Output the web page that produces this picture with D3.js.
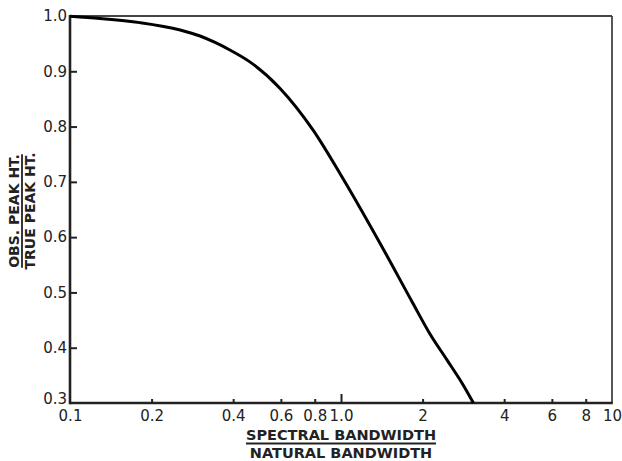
<!DOCTYPE html>
<html>
<head>
<meta charset="utf-8">
<script src="https://cdn.jsdelivr.net/npm/d3@7"></script>
<style>
  body { margin: 0; background: #fff; }
  text { font-family: "DejaVu Sans", Verdana, sans-serif; fill: #222; }
</style>
</head>
<body>
<svg id="chart" width="622" height="461"></svg>
<script>
// spectral bandwidth / natural bandwidth
const ratio = [0.1, 0.129, 0.181, 0.255, 0.302, 0.343, 0.389, 0.461, 0.596, 0.788, 1.0, 1.393, 1.844, 2.13, 2.46, 2.82, 3.08];
// observed / true peak height
const heightRatio = [0.9995, 0.9955, 0.988, 0.9747, 0.9638, 0.9521, 0.9385, 0.917, 0.869, 0.794, 0.712, 0.589, 0.48, 0.4248, 0.378, 0.333, 0.30];

const xTicks = [0.1, 0.2, 0.4, 0.6, 0.8, 1.0, 2, 4, 6, 8, 10];
const xTickLabels = ["0.1", "0.2", "0.4", "0.6", "0.8", "1.0", "2", "4", "6", "8", "10"];
const yTicks = [0.3, 0.4, 0.5, 0.6, 0.7, 0.8, 0.9, 1.0];

const margin = { left: 70, right: 10, top: 16, bottom: 58 };
const width = 622, height = 461;

const svg = d3.select("#chart");

const x = d3.scaleLog().domain([0.1, 10]).range([margin.left, width - margin.right]);
const y = d3.scaleLinear().domain([0.3, 1.0]).range([height - margin.bottom, margin.top]);

// frame: top & right lighter
svg.append("line")
  .attr("x1", x(0.1)).attr("x2", x(10))
  .attr("y1", y(1)).attr("y2", y(1))
  .attr("stroke", "#444").attr("stroke-width", 1.8);
svg.append("line")
  .attr("x1", x(10)).attr("x2", x(10))
  .attr("y1", y(1)).attr("y2", y(0.3))
  .attr("stroke", "#444").attr("stroke-width", 1.8);

// y axis (ticks pointing inward)
const yAxis = svg.append("g")
  .attr("transform", `translate(${x(0.1)},0)`)
  .call(d3.axisRight(y).tickValues(yTicks).tickSize(7).tickFormat(d3.format(".1f")));
yAxis.select(".domain").remove();
yAxis.selectAll(".tick line").attr("stroke", "#222").attr("stroke-width", 2);
yAxis.selectAll(".tick text")
  .attr("x", -3).attr("text-anchor", "end")
  .style("font-size", "15px").attr("fill", "#222");
// bottom label sits a bit higher so it clears the x labels
yAxis.selectAll(".tick").filter(d => d === 0.3).select("text").attr("y", -4);
yAxis.selectAll(".tick").filter(d => d === 1.0 || d === 0.3).select("line").remove();

// x axis (ticks pointing inward)
const xAxis = svg.append("g")
  .attr("transform", `translate(0,${y(0.3)})`)
  .call(d3.axisTop(x).tickValues(xTicks).tickSize(4)
    .tickFormat((d, i) => xTickLabels[i]));
xAxis.select(".domain").remove();
xAxis.selectAll(".tick line").attr("stroke", "#222").attr("stroke-width", 2)
  .attr("y2", d => d === 1.0 ? -9 : -4);
xAxis.selectAll(".tick").filter(d => d === 0.1 || d === 10).select("line").remove();
xAxis.selectAll(".tick text")
  .attr("y", 18).attr("dy", 0)
  .style("font-size", "15px").attr("fill", "#222");

// left & bottom axis lines
svg.append("line")
  .attr("x1", x(0.1)).attr("x2", x(0.1))
  .attr("y1", y(1) - 1).attr("y2", y(0.3) + 1.2)
  .attr("stroke", "#222").attr("stroke-width", 2.6);
svg.append("line")
  .attr("x1", x(0.1)).attr("x2", x(10) + 0.8)
  .attr("y1", y(0.3)).attr("y2", y(0.3))
  .attr("stroke", "#222").attr("stroke-width", 2.6);

// curve
const line = d3.line()
  .x((d, i) => x(ratio[i]))
  .y(d => y(d))
  .curve(d3.curveMonotoneX);

svg.append("path")
  .datum(heightRatio)
  .attr("d", line)
  .attr("fill", "none")
  .attr("stroke", "#000")
  .attr("stroke-width", 3);

// fraction-style axis titles
function fraction(g, top, bottom, y1, y2, size) {
  const t1 = g.append("text").attr("text-anchor", "middle").attr("y", y1)
    .style("font-size", size + "px").style("font-weight", "bold").text(top);
  g.append("text").attr("text-anchor", "middle").attr("y", y2)
    .style("font-size", size + "px").style("font-weight", "bold").text(bottom);
  const w = t1.node().getComputedTextLength();
  g.append("line")
    .attr("x1", -w / 2).attr("x2", w / 2)
    .attr("y1", y1 + 3.5).attr("y2", y1 + 3.5)
    .attr("stroke", "#222").attr("stroke-width", 1.8);
}

fraction(svg.append("g").attr("transform", `translate(${x(1)},0)`),
  "SPECTRAL BANDWIDTH", "NATURAL BANDWIDTH", 440, 458, 14.5);

fraction(svg.append("g").attr("transform", `translate(0,211) rotate(-90)`),
  "OBS. PEAK HT.", "TRUE PEAK HT.", 18.5, 35, 14);
</script>
</body>
</html>
